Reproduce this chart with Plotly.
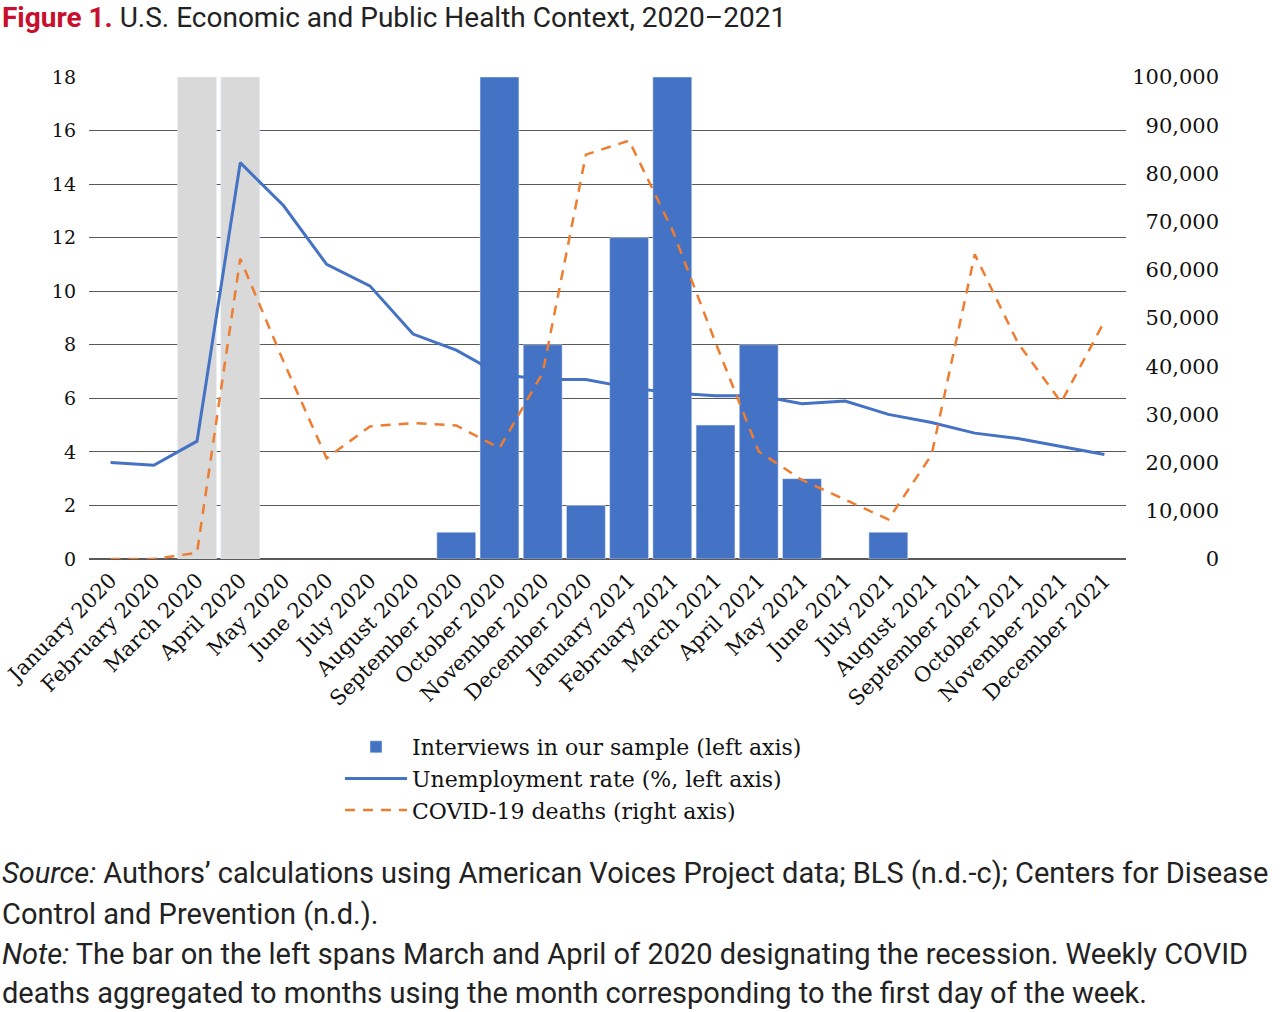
import plotly.graph_objects as go

months = ["January 2020", "February 2020", "March 2020", "April 2020", "May 2020", "June 2020",
          "July 2020", "August 2020", "September 2020", "October 2020", "November 2020",
          "December 2020", "January 2021", "February 2021", "March 2021", "April 2021",
          "May 2021", "June 2021", "July 2021", "August 2021", "September 2021",
          "October 2021", "November 2021", "December 2021"]

# Interviews in sample (None = no interviews; Oct 2020 and Feb 2021 run off the top of the 0-18 axis)
interviews = [None, None, None, None, None, None, None, None, 1, 18, 8, 2,
              12, 18, 5, 8, 3, None, 1, None, None, None, None, None]

# Recession shading (March & April 2020), drawn to the top of the left axis
recession = [None, None, 18, 18] + [None] * 20

unemployment = [3.6, 3.5, 4.4, 14.8, 13.2, 11.0, 10.2, 8.4, 7.8, 6.9, 6.7, 6.7,
                6.4, 6.2, 6.1, 6.1, 5.8, 5.9, 5.4, 5.1, 4.7, 4.5, 4.2, 3.9]

covid_deaths = [0, 0, 1300, 62300, 41000, 20900, 27500, 28200, 27700, 23000, 38600, 83900,
                86800, 68300, 44900, 22300, 16400, 12300, 8200, 21600, 63200, 44800, 32500, 49300]

left_ticks = [0, 2, 4, 6, 8, 10, 12, 14, 16, 18]
right_ticks = [0, 10000, 20000, 30000, 40000, 50000, 60000, 70000, 80000, 90000, 100000]
right_tick_text = ["{:,}".format(v) for v in right_ticks]

BLUE = "#4472C4"
ORANGE = "#ED7D31"
GREY = "#D9D9D9"
GRID = "#595959"
SERIF = "DejaVu Serif, serif"
SANS = "Roboto, sans-serif"

W, H = 1280, 1012
ML, MR, MT, MB = 89, 40, 77, 453
PW = W - ML - MR
PH = H - MT - MB
PLOT_RIGHT = 1126


def px_x(x):
    return (x - ML) / PW


def px_y(y):
    return (H - MB - y) / PH


fig = go.Figure()

fig.add_trace(go.Bar(x=months, y=recession, marker_color=GREY, showlegend=False,
                     hoverinfo="skip", yaxis="y"))
fig.add_trace(go.Bar(x=months, y=interviews, marker_color=BLUE,
                     name="Interviews in our sample (left axis)", yaxis="y"))
fig.add_trace(go.Scatter(x=months, y=unemployment, mode="lines",
                         line=dict(color=BLUE, width=3),
                         name="Unemployment rate (%, left axis)", yaxis="y"))
fig.add_trace(go.Scatter(x=months, y=covid_deaths, mode="lines",
                         line=dict(color=ORANGE, width=2.5, dash="10px,8px"),
                         name="COVID-19 deaths (right axis)", yaxis="y2"))

fig.update_layout(
    width=W, height=H,
    margin=dict(l=ML, r=MR, t=MT, b=MB, autoexpand=False),
    paper_bgcolor="white", plot_bgcolor="white",
    barmode="overlay", bargap=0.1,
    font=dict(family=SERIF, size=20, color="#111111"),
    xaxis=dict(domain=[0, px_x(PLOT_RIGHT)], tickangle=-45, showgrid=False,
               showline=False, ticks="", ticklabelstandoff=4,
               tickfont=dict(family=SERIF, size=21, color="#111111"),
               categoryorder="array", categoryarray=months),
    yaxis=dict(range=[0, 18], tickvals=left_ticks, showgrid=True, gridcolor=GRID,
               gridwidth=1.3, zeroline=True, zerolinecolor=GRID, zerolinewidth=1.5,
               showline=False, ticks="", ticklabelstandoff=12,
               tickfont=dict(family=SERIF, size=19, color="#111111")),
    yaxis2=dict(range=[0, 100000], tickvals=right_ticks, ticktext=right_tick_text,
                overlaying="y", anchor="free", side="left", position=px_x(1219),
                showgrid=False, zeroline=False, showline=False, ticks="",
                ticklabelstandoff=0,
                tickfont=dict(family=SERIF, size=21, color="#111111")),
    legend=dict(x=px_x(340), y=px_y(726), xanchor="left", yanchor="top",
                font=dict(family=SERIF, size=22, color="#111111"),
                bgcolor="rgba(0,0,0,0)", tracegroupgap=0, itemwidth=62),
    showlegend=True,
)

annotations = [
    dict(text='<span style="color:#C8102E"><b>Figure 1.</b></span> U.S. Economic and Public Health Context, 2020\u20132021',
         x=px_x(0), y=px_y(18), xanchor="left", yanchor="middle",
         font=dict(family=SANS, size=28, color="#222222")),
    dict(text="<i>Source:</i> Authors\u2019 calculations using American Voices Project data; BLS (n.d.-c); Centers for Disease",
         x=px_x(0), y=px_y(873), xanchor="left", yanchor="middle",
         font=dict(family=SANS, size=29, color="#222222")),
    dict(text="Control and Prevention (n.d.).",
         x=px_x(0), y=px_y(914), xanchor="left", yanchor="middle",
         font=dict(family=SANS, size=29, color="#222222")),
    dict(text="<i>Note:</i> The bar on the left spans March and April of 2020 designating the recession. Weekly COVID",
         x=px_x(0), y=px_y(954), xanchor="left", yanchor="middle",
         font=dict(family=SANS, size=29, color="#222222")),
    dict(text="deaths aggregated to months using the month corresponding to the first day of the week.",
         x=px_x(0), y=px_y(993), xanchor="left", yanchor="middle",
         font=dict(family=SANS, size=29, color="#222222")),
]
for a in annotations:
    a.update(xref="paper", yref="paper", showarrow=False, align="left")
fig.update_layout(annotations=annotations)

fig.write_html("out.html", config={"displayModeBar": False},
               post_script="document.body.style.margin='0';document.body.style.overflow='hidden';")
